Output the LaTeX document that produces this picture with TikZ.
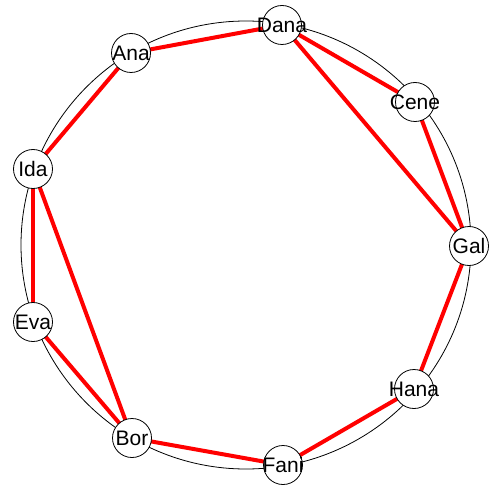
\documentclass[tikz,border=0pt]{standalone}
\usepackage{fontspec}
\setmainfont{Liberation Sans}
\usetikzlibrary{backgrounds}
\begin{document}
\begin{tikzpicture}[x=1pt,y=-1pt,
  vert/.style={circle,draw=black,fill=white,line width=0.8pt,minimum size=39pt,inner sep=0pt,
    label={[inner sep=0pt,font=\fontsize{21}{21}\selectfont]center:#1}},
  edge/.style={draw=red,line width=4pt}]
\useasboundingbox (0,0) rectangle (489,489);
\node[vert=Dana] (Dana) at (282,25) {};
\node[vert=Ana] (Ana) at (131,53) {};
\node[vert=Cene] (Cene) at (415,102) {};
\node[vert=Ida] (Ida) at (33,169) {};
\node[vert=Gal] (Gal) at (469,246) {};
\node[vert=Eva] (Eva) at (33,322) {};
\node[vert=Hana] (Hana) at (414,389) {};
\node[vert=Bor] (Bor) at (132,438) {};
\node[vert=Fani] (Fani) at (283,465) {};
\begin{pgfonlayer}{background}
\draw[line width=0.8pt] (246,245) ellipse (225 and 224);
\foreach \a/\b in {Ana/Dana,Dana/Cene,Dana/Gal,Cene/Gal,Gal/Hana,Hana/Fani,Fani/Bor,Bor/Ida,Bor/Eva,Eva/Ida,Ida/Ana}
  \draw[edge] (\a.center) -- (\b.center);
\end{pgfonlayer}
\end{tikzpicture}
\end{document}
